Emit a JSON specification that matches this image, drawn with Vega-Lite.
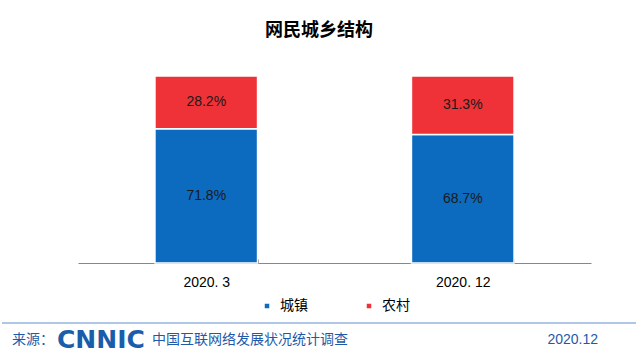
{
  "$schema": "https://vega.github.io/schema/vega-lite/v6.json",
  "background": "white",
  "padding": {"left": 0, "right": 0, "top": 22, "bottom": 0},
  "title": {"text": "网民城乡结构", "fontSize": 18, "fontWeight": "bold", "font": "Noto Sans CJK SC", "color": "#000000", "offset": 35, "anchor": "middle"},
  "spacing": 9,
  "resolve": {
    "scale": {"x": "independent", "y": "independent", "color": "independent"},
    "axis": {"x": "independent", "y": "independent"},
    "legend": {"color": "independent"}
  },
  "vconcat": [
    {
      "width": 513,
      "height": 187,
      "data": {"values": [
        {"date": "2020. 3", "type": "城镇", "share": 0.718},
        {"date": "2020. 3", "type": "农村", "share": 0.282},
        {"date": "2020. 12", "type": "城镇", "share": 0.687},
        {"date": "2020. 12", "type": "农村", "share": 0.313}
      ]},
      "transform": [
        {"stack": "share", "groupby": ["date"], "sort": [{"field": "type", "order": "descending"}], "as": ["s0", "s1"]}
      ],
      "encoding": {
        "x": {
          "field": "date", "type": "nominal", "sort": ["2020. 3", "2020. 12"],
          "scale": {"paddingInner": 0.6, "paddingOuter": 0.3},
          "axis": {"title": null, "labelAngle": 0, "labelFontSize": 14, "labelFont": "Liberation Sans", "labelColor": "#000000", "labelPadding": 16, "tickBand": "extent", "tickSize": -4, "domainColor": "#888888", "tickColor": "#888888", "grid": false}
        }
      },
      "layer": [
        {
          "mark": {"type": "bar", "stroke": "white", "strokeWidth": 1.5},
          "encoding": {
            "y": {"field": "s0", "type": "quantitative", "scale": {"domain": [0, 1]},
                  "axis": {"title": null, "labels": false, "ticks": false, "domain": false, "grid": false, "minExtent": 78, "maxExtent": 78}},
            "y2": {"field": "s1"},
            "color": {
              "field": "type", "type": "nominal",
              "scale": {"domain": ["城镇", "农村"], "range": ["#0C6BBF", "#EE3237"]},
              "legend": {"orient": "bottom", "direction": "horizontal", "title": null, "symbolType": "square", "symbolSize": 36, "labelFontSize": 14, "labelFont": "Noto Sans CJK SC", "labelColor": "#000000", "columnPadding": 54, "labelOffset": 6, "offset": 10}
            }
          }
        },
        {
          "transform": [
            {"fold": ["s0", "s1"], "as": ["edge", "pos"]},
            {"aggregate": [{"op": "mean", "field": "pos", "as": "mid"}], "groupby": ["date", "type", "share"]}
          ],
          "mark": {"type": "text", "font": "Liberation Sans", "fontSize": 14, "color": "#1a1a1a"},
          "encoding": {
            "y": {"field": "mid", "type": "quantitative", "scale": {"domain": [0, 1]},
                  "axis": {"title": null, "labels": false, "ticks": false, "domain": false, "grid": false, "minExtent": 78, "maxExtent": 78}},
            "text": {"field": "share", "type": "quantitative", "format": ".1%"}
          }
        }
      ]
    },
    {
      "width": 560,
      "height": 30,
      "data": {"values": [
        {"source": "来源：", "org": "CNNIC", "survey": "中国互联网络发展状况统计调查", "date": "2020.12"}
      ]},
      "layer": [
        {
          "mark": {"type": "rule", "color": "#94B3DE", "strokeWidth": 1.5},
          "encoding": {
            "x": {"datum": 2, "type": "quantitative", "scale": {"domain": [78, 638]}, "axis": null},
            "x2": {"datum": 636},
            "y": {"datum": 1, "type": "quantitative", "scale": {"domain": [0, 1]}, "axis": null}
          }
        },
        {
          "mark": {"type": "text", "align": "left", "baseline": "middle", "font": "Noto Sans CJK SC", "fontSize": 14, "color": "#1F5AA8"},
          "encoding": {
            "x": {"datum": 12, "type": "quantitative", "scale": {"domain": [78, 638]}, "axis": null},
            "y": {"datum": 0.45, "type": "quantitative", "scale": {"domain": [0, 1]}, "axis": null},
            "text": {"field": "source"}
          }
        },
        {
          "mark": {"type": "text", "align": "left", "baseline": "middle", "font": "DejaVu Sans", "fontSize": 25, "fontWeight": "bold", "color": "#1A5EAB"},
          "encoding": {
            "x": {"datum": 57, "type": "quantitative", "scale": {"domain": [78, 638]}, "axis": null},
            "y": {"datum": 0.45, "type": "quantitative", "scale": {"domain": [0, 1]}, "axis": null},
            "text": {"field": "org"}
          }
        },
        {
          "mark": {"type": "text", "align": "left", "baseline": "middle", "font": "Noto Sans CJK SC", "fontSize": 14, "color": "#1F5AA8"},
          "encoding": {
            "x": {"datum": 152, "type": "quantitative", "scale": {"domain": [78, 638]}, "axis": null},
            "y": {"datum": 0.45, "type": "quantitative", "scale": {"domain": [0, 1]}, "axis": null},
            "text": {"field": "survey"}
          }
        },
        {
          "mark": {"type": "text", "align": "right", "baseline": "middle", "font": "Liberation Sans", "fontSize": 14, "color": "#1F5AA8"},
          "encoding": {
            "x": {"datum": 598, "type": "quantitative", "scale": {"domain": [78, 638]}, "axis": null},
            "y": {"datum": 0.45, "type": "quantitative", "scale": {"domain": [0, 1]}, "axis": null},
            "text": {"field": "date"}
          }
        }
      ]
    }
  ],
  "config": {
    "view": {"stroke": null},
    "font": "Noto Sans CJK SC",
    "legend": {"layout": {"bottom": {"anchor": "middle"}}}
  }
}
